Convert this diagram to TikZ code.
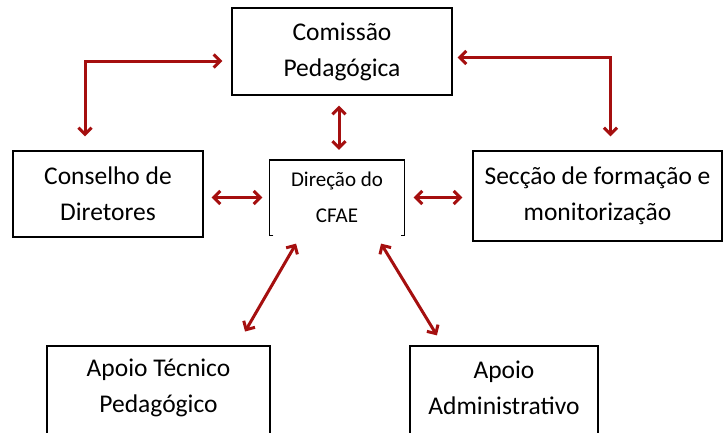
\documentclass[tikz,border=0pt]{standalone}
\usepackage{fontspec}
\setmainfont{Carlito}
\usetikzlibrary{arrows.meta}
\definecolor{arrred}{RGB}{165,15,15}
\tikzset{
  box/.style={draw=black, line width=1.3pt, inner sep=0pt, align=center, font=\fontsize{25.5}{36}\selectfont},
  boxtext/.style={inner sep=0pt, align=center, font=\fontsize{25.5}{36}\selectfont},
  arr/.style={draw=arrred, line width=3pt, {Straight Barb[length=6.5pt,width=13pt]}-{Straight Barb[length=6.5pt,width=13pt]}},
}
\begin{document}
\begin{tikzpicture}[x=1pt,y=-1pt]
\useasboundingbox (0,0) rectangle (723,432);
\node[box, minimum width=220pt, minimum height=87pt] (com) at (342,51.5) {Comissão\\Pedagógica};
\node[box, minimum width=190pt, minimum height=86pt] (cons) at (108,194) {Conselho de\\Diretores};
\node[box, draw=none, minimum width=134pt, minimum height=74pt, font=\fontsize{21}{36}\selectfont] (dir) at (337,197.5) {Direção do\\CFAE};
\draw[line width=1.3pt] ([xshift=4pt]dir.south west) -- (dir.south west) -- (dir.north west) -- (dir.north east) -- (dir.south east) -- ([xshift=-4pt]dir.south east);
\node[box, minimum width=249pt, minimum height=90pt] (sec) at (597.5,196) {Secção de formação e\\monitorização};
\node[box, minimum width=223pt, minimum height=92pt] (apt) at (158.5,392) {};
\node[boxtext] (aptt) at ([yshift=4pt]apt.center) {Apoio Técnico\\Pedagógico};
\node[box, minimum width=188pt, minimum height=92pt] (apa) at (504,392) {};
\node[boxtext] (apat) at ([yshift=4pt]apa.center) {Apoio\\Administrativo};
% elbow arrows
\draw[arr, shorten <=9pt, shorten >=14pt] ([yshift=-9.5pt]com.west) -| ([xshift=-23pt]cons.north);
\draw[arr, shorten <=5pt, shorten >=14pt] ([yshift=-6pt]com.east) -| ([xshift=13pt]sec.north);
% straight arrows
\draw[arr, shorten <=10pt, shorten >=10pt] ([xshift=2pt]dir.north |- com.south) -- ([xshift=2pt]dir.north);
\draw[arr, shorten <=8pt, shorten >=7pt] (cons.east |- dir.west) -- (dir.west);
\draw[arr, shorten <=9pt, shorten >=10pt] (dir.east) -- (sec.west |- dir.east);
\draw[arr, shorten <=9.8pt, shorten >=16pt] ([xshift=-36pt]dir.south) -- ([xshift=78.5pt]apt.north);
\draw[arr, shorten <=9.9pt, shorten >=11.7pt] ([xshift=38.9pt]dir.south) -- ([xshift=-61pt]apa.north);
\end{tikzpicture}
\end{document}
